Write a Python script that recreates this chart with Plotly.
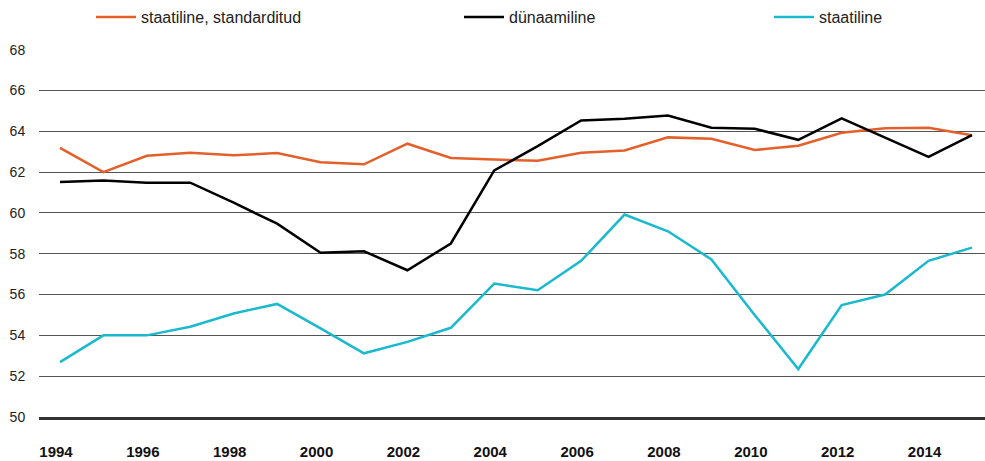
import plotly.graph_objects as go

years = list(range(1994, 2016))

staatiline_std = [63.19, 62.0, 62.8, 62.95, 62.82, 62.93, 62.48, 62.38, 63.39, 62.69, 62.61,
                  62.56, 62.95, 63.06, 63.7, 63.63, 63.08, 63.29, 63.93, 64.15, 64.17, 63.8]
dunaamiline = [61.51, 61.59, 61.48, 61.48, 60.5, 59.47, 58.05, 58.12, 57.19, 58.5, 62.08,
               63.27, 64.53, 64.61, 64.77, 64.17, 64.12, 63.58, 64.63, 63.68, 62.74, 63.81]
staatiline = [52.69, 54.0, 54.0, 54.42, 55.07, 55.54, 54.34, 53.12, 53.68, 54.37, 56.54,
              56.21, 57.65, 59.92, 59.1, 57.72, 54.99, 52.35, 55.48, 56.0, 57.65, 58.3]

x_ticks = list(range(1994, 2016, 2))
y_ticks = list(range(50, 70, 2))

ORANGE = "#E4602B"
BLACK = "#000000"
CYAN = "#1AB9CE"

fig = go.Figure()
fig.add_trace(go.Scatter(x=years, y=staatiline_std, mode="lines", name="staatiline, standarditud",
                         line=dict(color=ORANGE, width=2.5), legend="legend"))
fig.add_trace(go.Scatter(x=years, y=dunaamiline, mode="lines", name="dünaamiline",
                         line=dict(color=BLACK, width=2.5), legend="legend2"))
fig.add_trace(go.Scatter(x=years, y=staatiline, mode="lines", name="staatiline",
                         line=dict(color=CYAN, width=2.5), legend="legend3"))

leg_common = dict(orientation="h", xref="container", yref="container", yanchor="middle",
                  xanchor="left", y=1 - 17 / 461, font=dict(size=16, color="#222"),
                  bgcolor="rgba(0,0,0,0)", borderwidth=0, itemwidth=40)

fig.update_layout(
    width=985, height=461,
    margin=dict(l=39, r=0, t=49, b=44, autoexpand=False),
    paper_bgcolor="white", plot_bgcolor="white",
    font=dict(family="Liberation Sans, Arial, Helvetica, sans-serif", color="#222"),
    showlegend=True,
    legend=dict(leg_common, x=91 / 985),
    legend2=dict(leg_common, x=459 / 985),
    legend3=dict(leg_common, x=769 / 985),
    xaxis=dict(range=[1993.517, 2015.3], tickvals=x_ticks, ticktext=[str(v) for v in x_ticks],
               showgrid=False, zeroline=False, showline=True, linecolor="#333", linewidth=2.5,
               ticks="outside", ticklen=19, tickcolor="rgba(0,0,0,0)", ticklabelshift=-4,
               automargin=False,
               tickfont=dict(size=15, color="#111", family="Liberation Sans, Arial, sans-serif",
                             weight="bold")),
    yaxis=dict(range=[50, 68.03], tickvals=y_ticks, ticktext=[str(v) for v in y_ticks],
               showgrid=True, gridcolor="#555", gridwidth=1.2, zeroline=False, showline=False,
               ticks="outside", ticklen=10, tickcolor="rgba(0,0,0,0)", automargin=False,
               tickfont=dict(size=14, color="#222")),
)

fig.write_html("out.html", config={"displayModeBar": False},
               post_script="document.body.style.margin='0';")
